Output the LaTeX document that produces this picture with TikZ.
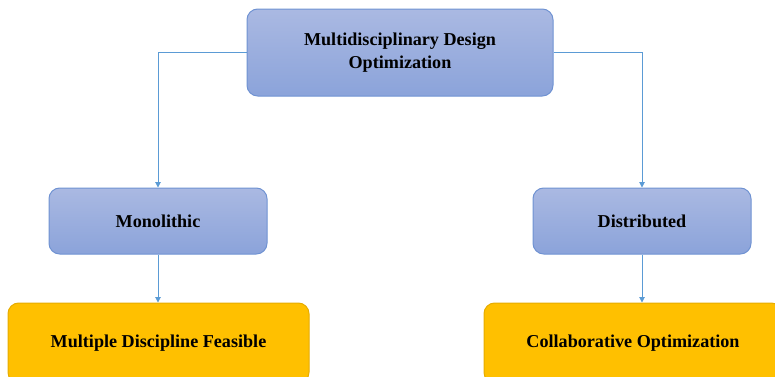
\documentclass[tikz,border=0pt]{standalone}
\usepackage{fontspec}
\setmainfont{Liberation Serif}
\usetikzlibrary{positioning,arrows.meta}

\definecolor{boxtop}{HTML}{AAB9E2}
\definecolor{boxbot}{HTML}{8BA3DA}
\definecolor{boxline}{HTML}{6F92D2}
\definecolor{goldfill}{HTML}{FFC000}
\definecolor{goldline}{HTML}{E6AC00}
\definecolor{linkblue}{HTML}{5B9BD5}

\begin{document}
\begin{tikzpicture}[
  x=0.75pt, y=-0.75pt,
  font=\bfseries\fontsize{13.6}{17}\selectfont,
  bluebox/.style={draw=boxline, line width=0.75pt, rounded corners=8pt,
                  top color=boxtop, bottom color=boxbot,
                  align=center, inner sep=3pt},
  goldbox/.style={draw=goldline, line width=0.75pt, rounded corners=8pt,
                  fill=goldfill, align=center, inner sep=3pt,
                  minimum height=60pt},
  arrow/.style={-{Triangle[length=4pt,width=4pt]}, draw=linkblue, line width=0.75pt}
]
\useasboundingbox (0,0) rectangle (775,376);

\node[bluebox, minimum width=229.5pt, minimum height=65.25pt] (mdo) at (400,52.5)
  {Multidisciplinary Design\\Optimization};
\node[bluebox, minimum width=163.5pt, minimum height=49.5pt] (mono) at (158,221) {Monolithic};
\node[bluebox, minimum width=163.5pt, minimum height=49.5pt] (dist) at (642,221) {Distributed};
\node[goldbox, minimum width=225.75pt] (mdf) at (158.5,343) {Multiple Discipline Feasible};
\node[goldbox, minimum width=223.5pt] (co) at (633,343) {Collaborative Optimization};

\draw[arrow] (mdo.west) -| (mono.north);
\draw[arrow] (mdo.east) -| (dist.north);
\draw[arrow] (mono.south) -- (mono.south |- mdf.north);
\draw[arrow] (dist.south) -- (dist.south |- co.north);
\end{tikzpicture}
\end{document}
